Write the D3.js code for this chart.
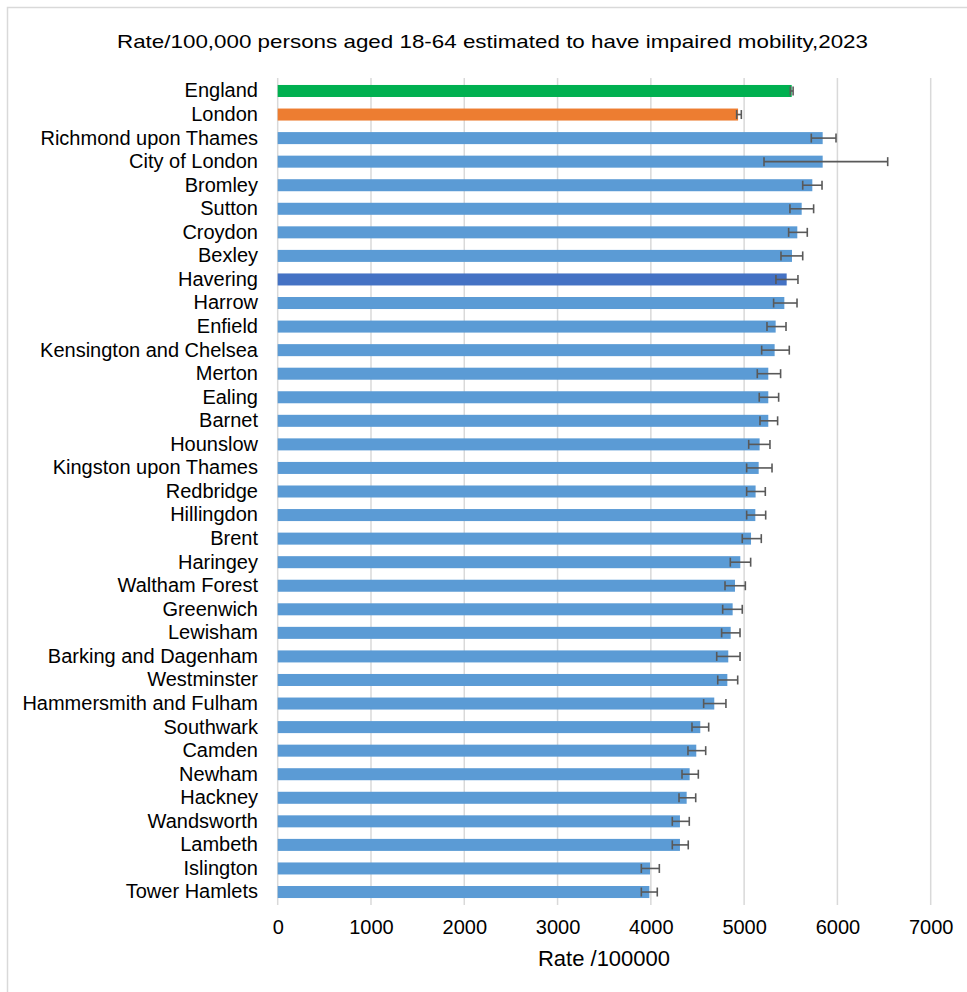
<!DOCTYPE html>
<html>
<head>
<meta charset="utf-8">
<script src="https://cdn.jsdelivr.net/npm/d3@7"></script>
<style>
  html, body { margin: 0; padding: 0; background: #fff; }
  svg { display: block; font-family: "Liberation Sans", Arial, sans-serif; }
</style>
</head>
<body>
<svg id="chart" width="967" height="992"></svg>
<script>
const titleText = "Rate/100,000 persons aged 18-64 estimated to have impaired mobility,2023";
const axisTitle = "Rate /100000";
const categories = ["England","London","Richmond upon Thames","City of London","Bromley","Sutton","Croydon","Bexley","Havering","Harrow","Enfield","Kensington and Chelsea","Merton","Ealing","Barnet","Hounslow","Kingston upon Thames","Redbridge","Hillingdon","Brent","Haringey","Waltham Forest","Greenwich","Lewisham","Barking and Dagenham","Westminster","Hammersmith and Fulham","Southwark","Camden","Newham","Hackney","Wandsworth","Lambeth","Islington","Tower Hamlets"];
const values = [5510,4935,5842,5842,5731,5617,5570,5513,5456,5431,5338,5327,5259,5259,5259,5166,5156,5123,5120,5074,4959,4902,4877,4856,4830,4820,4680,4530,4487,4416,4384,4312,4312,3991,3984];
const lower = [5495,4920,5720,5213,5628,5491,5477,5395,5341,5316,5245,5188,5141,5162,5170,5049,5027,5027,5027,4980,4852,4795,4770,4759,4706,4717,4566,4441,4398,4334,4302,4230,4230,3898,3898];
const upper = [5525,4970,5985,6539,5835,5745,5677,5628,5577,5567,5449,5484,5391,5370,5359,5277,5299,5227,5231,5184,5070,5013,4980,4956,4956,4931,4805,4620,4588,4509,4481,4412,4401,4091,4069];
const tickValues = [0,1000,2000,3000,4000,5000,6000,7000];
const barColors = {"England":"#00B050","London":"#ED7D31","Havering":"#4472C4"};
const defaultColor = "#5B9BD5";

const svg = d3.select("#chart");
// outer frame
svg.append("rect").attr("x",7.5).attr("y",7.5).attr("width",980).attr("height",1000)
  .attr("fill","#fff").attr("stroke","#d9d9d9").attr("stroke-width",1.5);

const x = d3.scaleLinear().domain([0,7000]).range([277.7,930.7]);
const y = d3.scaleBand().domain(categories).range([79.2,903.8]).paddingInner(0.49).paddingOuter(0.245);

// gridlines
svg.append("g").selectAll("line").data(tickValues).join("line")
  .attr("x1",d=>x(d)).attr("x2",d=>x(d)).attr("y1",78).attr("y2",905)
  .attr("stroke","#d9d9d9").attr("stroke-width",1.5);

// bars
svg.append("g").selectAll("rect").data(categories).join("rect")
  .attr("x",x(0)).attr("y",d=>y(d)).attr("height",y.bandwidth())
  .attr("width",(d,i)=>x(values[i])-x(0))
  .attr("fill",d=>barColors[d]||defaultColor);

// error bars
const eb = svg.append("g").attr("stroke","#595959").attr("stroke-width",1.6);
categories.forEach((c,i)=>{
  const cy = y(c)+y.bandwidth()/2;
  eb.append("line").attr("x1",x(lower[i])).attr("x2",x(upper[i])).attr("y1",cy).attr("y2",cy);
  [lower[i],upper[i]].forEach(v=>{
    eb.append("line").attr("x1",x(v)).attr("x2",x(v)).attr("y1",cy-4.5).attr("y2",cy+4.5);
  });
});

// category labels
const yAxis = d3.axisLeft(y).tickSize(0).tickPadding(0);
const gy = svg.append("g").attr("transform","translate(258,0)").call(yAxis);
gy.select(".domain").remove();
gy.selectAll("text").attr("font-size",20).attr("fill","#000").attr("font-family","'Liberation Sans', Arial, sans-serif");

// x axis ticks
const xAxis = d3.axisBottom(x).tickValues(tickValues).tickSize(0).tickPadding(0).tickFormat(d3.format("d"));
const gx = svg.append("g").attr("transform","translate(0,920)").call(xAxis);
gx.select(".domain").remove();
gx.selectAll("text").attr("font-size",20).attr("fill","#000").attr("font-family","'Liberation Sans', Arial, sans-serif");

// title
svg.append("text").attr("x",492.5).attr("y",48).attr("text-anchor","middle")
  .attr("font-size",19).attr("fill","#000")
  .attr("textLength",751).attr("lengthAdjust","spacingAndGlyphs").text(titleText);
// axis title
svg.append("text").attr("x",604).attr("y",966).attr("text-anchor","middle")
  .attr("font-size",22).attr("fill","#000").text(axisTitle);
</script>
</body>
</html>
